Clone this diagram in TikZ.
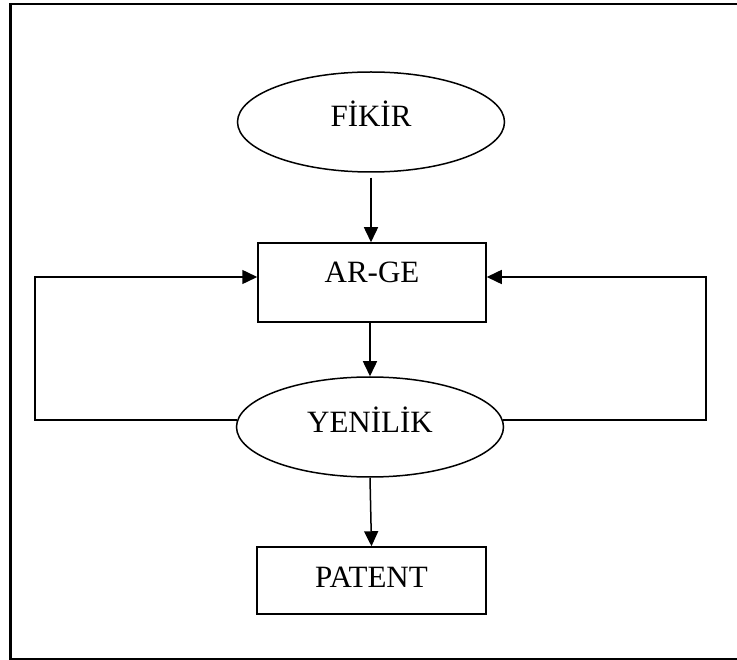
\documentclass[tikz,border=0pt]{standalone}
\usepackage{fontspec}
\setmainfont{Liberation Serif}
\usetikzlibrary{shapes.geometric,arrows.meta}
\begin{document}
\begin{tikzpicture}[x=1pt,y=-1pt,
  ln/.style={line width=1.5pt},
  arr/.style={ln,-{Triangle[length=15pt,width=14pt]}},
  ell/.style={ln,draw,shape=ellipse,inner sep=0pt,minimum width=267pt,minimum height=100pt},
  boxn/.style={ln,draw,rectangle,inner sep=0pt},
  txt/.style={anchor=base,inner sep=0pt,font=\fontsize{31}{37}\selectfont}
]
\useasboundingbox (0,0) rectangle (737,660);
\clip (0,0) rectangle (737,660);
\fill[white] (0,0) rectangle (737,660);
% outer frame (right side lies beyond the picture)
\draw[line width=2.2pt] (745,4.3) -- (10.5,4.3) -- (10.5,658.7) -- (745,658.7);

\node[ell] (fikir) at (371,122) {};
\node[boxn,minimum width=228pt,minimum height=79pt] (arge) at (372,282.5) {};
\node[ell] (yenilik) at (370,427) {};
\node[boxn,minimum width=229pt,minimum height=67pt] (patent) at (371.5,580.5) {};

\node[txt] (tf) at (371,127) {FİKİR};
\node[txt] (ta) at (372,283) {AR-GE};
\node[txt] (ty) at (370,433) {YENİLİK};
\node[txt] (tp) at (371.5,587) {PATENT};

\coordinate (L) at (35,277);
\coordinate (R) at (706,277);

\draw[arr,shorten <=5pt] (fikir.south) -- (fikir.south |- arge.north);
\draw[arr] (yenilik.north |- arge.south) -- (yenilik.north);
\draw[arr] (yenilik.south) -- (patent.north);
\draw[arr] (yenilik.177) -| (L) -- (arge.west |- L);
\draw[arr] (yenilik.3) -| (R) -- (arge.east |- R);
\end{tikzpicture}
\end{document}
